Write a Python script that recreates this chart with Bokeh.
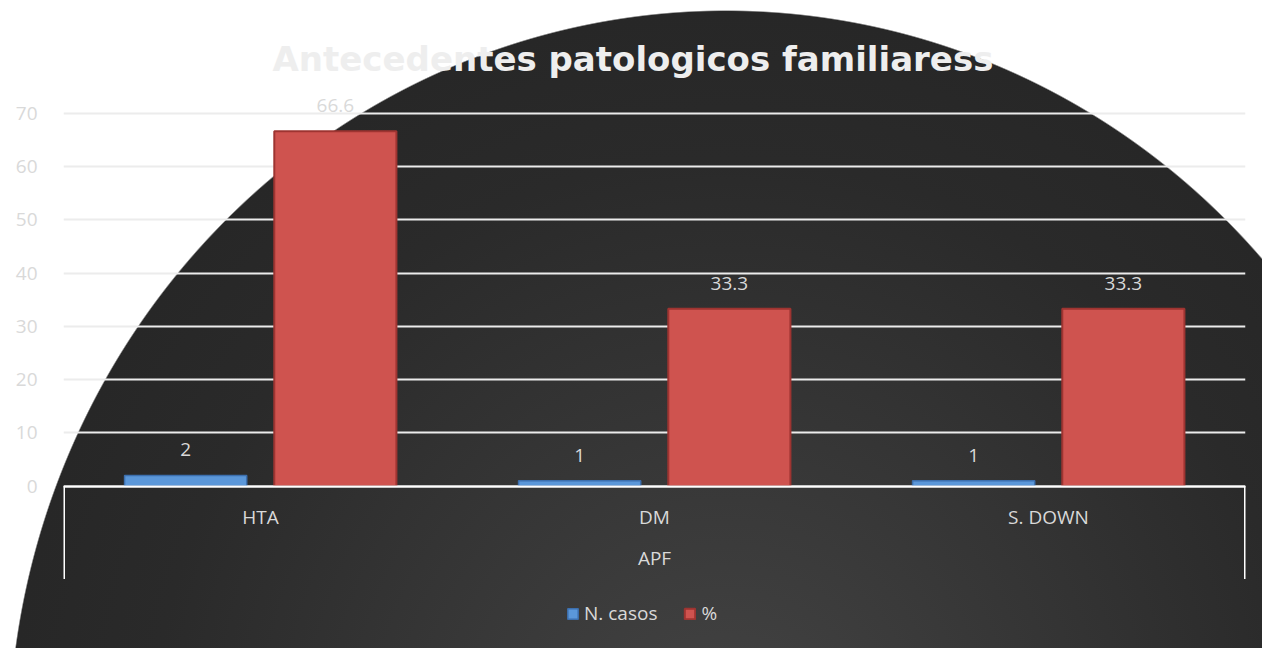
from bokeh.plotting import figure
from bokeh.models import (FactorRange, Range1d, ColumnDataSource, FixedTicker, CategoricalAxis,
                          LabelSet, Legend, LegendItem)
from bokeh.core.properties import value
from bokeh.transform import dodge
from bokeh.embed import file_html
from bokeh.resources import INLINE

# ---- data ----
group = "APF"
categories = ["HTA", "DM", "S. DOWN"]
n_casos = [2, 1, 1]
porcentaje = [66.6, 33.3, 33.3]
series_names = ["N. casos", "%"]
y_ticks = [0, 10, 20, 30, 40, 50, 60, 70]
title_text = "Antecedentes patologicos familiaress"

factors = [(group, c) for c in categories]
src = ColumnDataSource(dict(
    x=factors,
    n=n_casos,
    pct=porcentaje,
    n_lbl=[str(v) for v in n_casos],
    pct_lbl=[str(v) for v in porcentaje],
))

FONT = "Open Sans"
LIGHT = "#d9d9d9"

p = figure(
    width=1262, height=648,
    x_range=FactorRange(*factors, factor_padding=0, group_padding=0, range_padding=0),
    y_range=Range1d(-30.49, 75.2),
    output_backend="svg", toolbar_location=None,
    x_axis_location=None,
    min_border_left=63, min_border_right=17, min_border_top=85, min_border_bottom=0,
    background_fill_alpha=0, border_fill_alpha=0, outline_line_color=None,
)
p.styles = {
    "background": "radial-gradient(ellipse 718px 740px at 726px 750px, #444444 0%, #373737 40%, #2a2a2a 80%, #272727 99.8%, #ffffff 100%)"
}

# title
p.title.text = title_text
p.title.align = "left"
p.title.text_font = "DejaVu Sans"
p.title.text_font_size = "34px"
p.title.text_font_style = "bold"
p.title.text_color = "#eeeeee"
p.title.offset = 209
p.title.standoff = 13

# y axis
p.yaxis.ticker = FixedTicker(ticks=y_ticks)
p.yaxis.axis_line_color = None
p.yaxis.major_tick_line_color = None
p.yaxis.minor_tick_line_color = None
p.yaxis.major_label_text_color = LIGHT
p.yaxis.major_label_text_font = FONT
p.yaxis.major_label_text_font_size = "19px"
p.yaxis.major_label_standoff = 20

p.ygrid.ticker = FixedTicker(ticks=y_ticks)
p.ygrid.grid_line_color = "#ececec"
p.ygrid.grid_line_width = 2
p.xgrid.grid_line_color = None

# bars
r_n = p.vbar(x=dodge("x", -0.19, range=p.x_range), top="n", width=0.31, source=src,
             fill_color="#5b97d9", line_color="#3c6fae", line_width=1.5)
r_p = p.vbar(x=dodge("x", 0.19, range=p.x_range), top="pct", width=0.31, source=src,
             fill_color="#cf534f", line_color="#9e3431", line_width=2)

# value labels
for col, lbl, off in (("n", "n_lbl", -0.19), ("pct", "pct_lbl", 0.19)):
    p.add_layout(LabelSet(x=dodge("x", off, range=p.x_range), y=col, text=lbl, source=src,
                          text_align="center", text_baseline="bottom", y_offset=19,
                          text_color=LIGHT, text_font=value(FONT), text_font_size=value("19px")))

# box lines around the category axis
p.segment(x0=[0, 3], y0=[0, 0], x1=[0, 3], y1=[-17.45, -17.45], line_color="white", line_width=3)

# x axis drawn at y=0
xa = CategoricalAxis(fixed_location=0)
xa.axis_line_color = "white"
xa.axis_line_width = 2
xa.major_tick_line_color = None
xa.minor_tick_line_color = None
xa.major_label_text_color = LIGHT
xa.major_label_text_font = FONT
xa.major_label_text_font_size = "19px"
xa.major_label_standoff = 12
xa.group_text_color = LIGHT
xa.group_text_font = FONT
xa.group_text_font_size = "19px"
xa.group_text_font_style = "normal"
xa.separator_line_color = None
p.add_layout(xa, "below")

legend = Legend(items=[LegendItem(label=series_names[0], renderers=[r_n]),
                       LegendItem(label=series_names[1], renderers=[r_p])],
                orientation="horizontal", location=(503, 22),
                background_fill_alpha=0, border_line_alpha=0,
                label_text_color=LIGHT, label_text_font=FONT, label_text_font_size="19px",
                glyph_width=13, glyph_height=13, spacing=26, padding=0, margin=0,
                label_standoff=5)
p.add_layout(legend)

open("out.html", "w").write(file_html(p, INLINE))
